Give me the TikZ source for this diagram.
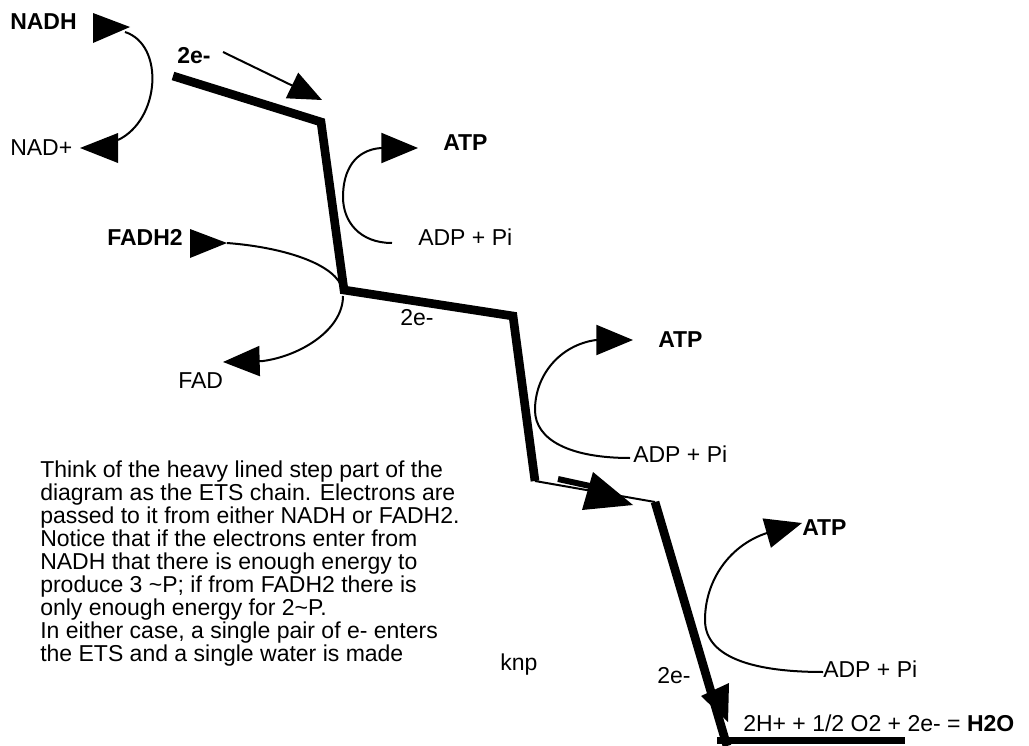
\documentclass[tikz,border=0pt]{standalone}
\usepackage{fontspec}
\setmainfont{Liberation Sans}
\usetikzlibrary{arrows.meta}
\begin{document}
\begin{tikzpicture}[x=0.75pt,y=-0.75pt,
  lbl/.style={anchor=base west, inner sep=0pt, font=\fontsize{17.25}{17.25}\selectfont},
  blbl/.style={anchor=base west, inner sep=0pt, font=\fontsize{17.25}{17.25}\selectfont\bfseries},
  heavy/.style={line width=6.5pt, line join=miter, line cap=butt},
  thinline/.style={line width=1.5pt},
  tip/.style={-{Triangle[length=27.5pt,width=22.5pt]}},
  smalltip/.style={-{Triangle[length=25pt,width=21pt]}},
]
\useasboundingbox (0,0) rectangle (1029,746);

% texts
\node[blbl] (nadh) at (10,30) {NADH};
\node[lbl] (nad) at (10,155) {NAD+};
\node[blbl] (e1) at (177,63) {2e-};
\node[blbl] (atp1) at (443,150) {ATP};
\node[lbl] (adp1) at (418,245) {ADP + Pi};
\node[blbl] (fadh2) at (107,245) {FADH2};
\node[lbl] (fad) at (178,388) {FAD};
\node[lbl] (e2) at (400,325) {2e-};
\node[blbl] (atp2) at (658,347) {ATP};
\node[lbl] (adp2) at (633,462) {ADP + Pi};
\node[blbl] (atp3) at (802,535) {ATP};
\node[lbl] (adp3) at (823,677) {ADP + Pi};
\node[lbl] (e3) at (657,683) {2e-};
\node[lbl] (eq) at (743,731) {2H+ + 1/2 O2 + 2e- = \textbf{H2O}};
\node[lbl] (knp) at (500,670) {knp};
\node[lbl, align=left] (para) at (40,661) {Think of the heavy lined step part of the\\
diagram as the ETS chain. Electrons are\\
passed to it from either NADH or FADH2.\\
Notice that if the electrons enter from\\
NADH that there is enough energy to\\
produce 3 \textasciitilde P; if from FADH2 there is\\
only enough energy for 2\textasciitilde P.\\
In either case, a single pair of e- enters\\
the ETS and a single water is made};

% ETS chain
\coordinate (h0) at (173,76);
\coordinate (h1) at (321,122);
\coordinate (h2) at (344,290);
\coordinate (h3) at (513,316);
\coordinate (h4) at (535,481);
\coordinate (h5) at (655,502);
\coordinate (h6) at (727,746);
\coordinate (w0) at (717,740);
\coordinate (w1) at (905,740);
\draw[heavy] (h0) -- (h1) -- (h2) -- (h3) -- (h4);
\draw[thinline] (h4) -- (h5);
\draw[line width=4.5pt] (558,479) -- (590,486);
\fill (582,510) -- (593,472) -- (633,505) -- cycle;
\draw[heavy] (h5) -- (h6);
\fill (701,696) -- (729,683) -- (728,722) -- cycle;
\draw[line width=5.25pt] (w0) -- (w1);

% incoming 2e- arrow
\coordinate (e1s) at (223,52);
\coordinate (e1t) at (322,100);
\draw[thinline, smalltip] (e1s) -- (e1t);

% NADH / NAD+ loop
\coordinate (nadA) at (118,140);
\coordinate (nadB) at (125,32);
\draw[thinline] (nadA) .. controls (160,120) and (165,45) .. (nadB);
\fill (93,13) -- (93,43) -- (130,27) -- cycle;
\fill (118,133) -- (118,163) -- (80,148) -- cycle;

% FADH2 / FAD
\coordinate (ft) at (227,243);
\fill (190,229) -- (190,258) -- (ft) -- cycle;
\coordinate (fj) at (341,285);
\draw[thinline] (ft) .. controls (280,247) and (330,262) .. (fj);
\coordinate (fj2) at (343,296);
\coordinate (fadt) at (223,362);
\draw[thinline, tip] (fj2) .. controls (343,330) and (300,356) .. (263,361) -- (fadt);

% ATP loops
\coordinate (a1s) at (392,243);
\coordinate (a1t) at (418,148);
\draw[thinline, tip] (a1s) .. controls (360,243) and (343,222) .. (343,197)
  .. controls (343,170) and (355,150) .. (381,148) -- (a1t);
\coordinate (a2s) at (630,458);
\coordinate (a2t) at (633,340);
\draw[thinline, tip] (a2s) .. controls (570,458) and (535,440) .. (535,410)
  .. controls (535,375) and (560,345) .. (596,340) -- (a2t);
\coordinate (a3s) at (823,672);
\coordinate (a3t) at (802,523);
\draw[thinline, tip] (a3s) .. controls (760,672) and (705,660) .. (705,620)
  .. controls (705,580) and (730,545) .. (767,533) -- (a3t);
\end{tikzpicture}
\end{document}
